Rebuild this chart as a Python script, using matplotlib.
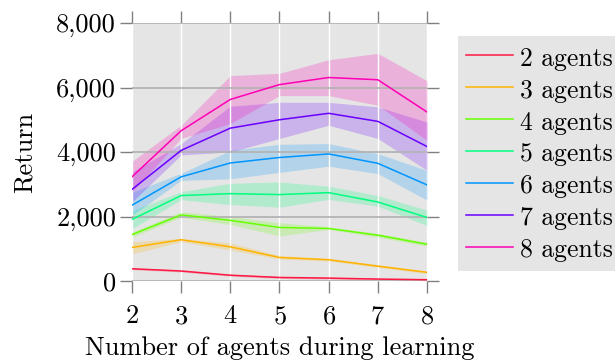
import matplotlib
matplotlib.use('Agg')
import matplotlib.pyplot as plt
import matplotlib.ticker as ticker

# Training agent counts (x axis) and evaluated team sizes (one curve each)
agents_learning = [2, 3, 4, 5, 6, 7, 8]
series_labels = ['2 agents', '3 agents', '4 agents', '5 agents', '6 agents', '7 agents', '8 agents']
series_colors = ['#ff1744', '#ffb300', '#66ff00', '#00ff7f', '#0095ff', '#6a00ff', '#ff00b4']

# Mean return per evaluated team size
mean_2 = [380, 310, 180, 110, 90, 60, 40]
mean_3 = [1040, 1280, 1060, 730, 660, 460, 270]
mean_4 = [1440, 2050, 1880, 1660, 1630, 1420, 1140]
mean_5 = [1910, 2650, 2710, 2680, 2740, 2450, 1970]
mean_6 = [2350, 3230, 3660, 3830, 3940, 3650, 2980]
mean_7 = [2840, 4050, 4740, 5000, 5200, 4950, 4170]
mean_8 = [3230, 4660, 5630, 6090, 6310, 6240, 5240]

# Lower / upper edge of the shaded spread
low_2 = [350, 280, 150, 80, 60, 30, 10]
high_2 = [410, 340, 210, 140, 120, 90, 70]
low_3 = [840, 1220, 960, 680, 620, 420, 230]
high_3 = [1220, 1320, 1180, 790, 700, 510, 310]
low_4 = [1360, 1980, 1750, 1400, 1600, 1360, 1080]
high_4 = [1520, 2150, 2000, 1810, 1680, 1480, 1200]
low_5 = [1620, 2520, 2370, 2290, 2530, 2320, 1720]
high_5 = [2180, 2770, 3030, 3070, 2940, 2650, 2200]
low_6 = [2030, 3120, 3170, 3370, 3560, 3330, 2510]
high_6 = [2750, 3340, 4050, 4240, 4260, 3950, 3430]
low_7 = [2450, 3910, 4000, 4420, 4830, 4420, 3430]
high_7 = [3380, 4260, 5420, 5540, 5540, 5400, 4930]
low_8 = [2760, 4420, 4880, 5750, 5750, 5450, 4360]
high_8 = [3710, 4830, 6370, 6440, 6860, 7060, 6210]

means = [mean_2, mean_3, mean_4, mean_5, mean_6, mean_7, mean_8]
lows = [low_2, low_3, low_4, low_5, low_6, low_7, low_8]
highs = [high_2, high_3, high_4, high_5, high_6, high_7, high_8]

plt.rcParams['font.family'] = 'cmr10'
plt.rcParams['axes.formatter.use_mathtext'] = True
FS = 19

fig = plt.figure(figsize=(6.15, 3.6), dpi=100)
ax = fig.add_axes([0.2146, 0.2194, 0.4797, 0.7167])
ax.set_facecolor('#e5e5e5')
ax.set_axisbelow('line')

for m, lo, hi, c, lab in zip(means, lows, highs, series_colors, series_labels):
    ax.fill_between(agents_learning, lo, hi, color=c, alpha=0.22, linewidth=0, zorder=1)
    ax.plot(agents_learning, m, color=c, linewidth=1.1, label=lab, zorder=2)

ax.set_xlim(2, 8)
ax.set_ylim(0, 8000)
ax.set_xticks(agents_learning)
ax.yaxis.set_major_locator(ticker.MultipleLocator(2000))
ax.yaxis.set_major_formatter(ticker.FuncFormatter(lambda v, p: f'{v:,.0f}'))

# grid: white verticals, grey horizontals
ax.xaxis.grid(True, color='white', linewidth=1.0)
ax.yaxis.grid(True, color='#b4b4b4', linewidth=1.3)

for s in ax.spines.values():
    s.set_visible(False)

ax.tick_params(axis='both', direction='out', length=8.5, width=1.0, color='#808080',
               labelsize=FS, top=True, right=True, pad=3)
ax.tick_params(axis='x', pad=8.5)

ax.set_xlabel('Number of agents during learning', fontsize=FS, labelpad=5.5)
ax.set_ylabel('Return', fontsize=FS, labelpad=14)

leg = fig.legend(loc='upper left', bbox_to_anchor=(0.7447, 0.9), fontsize=18.5,
                 frameon=True, fancybox=False, facecolor='#e5e5e5', edgecolor='none',
                 framealpha=1.0, handlelength=1.8, handleheight=1.1, handletextpad=0.3,
                 labelspacing=0.23, borderpad=0.33, borderaxespad=0)

fig.savefig('out.png', dpi=100)
